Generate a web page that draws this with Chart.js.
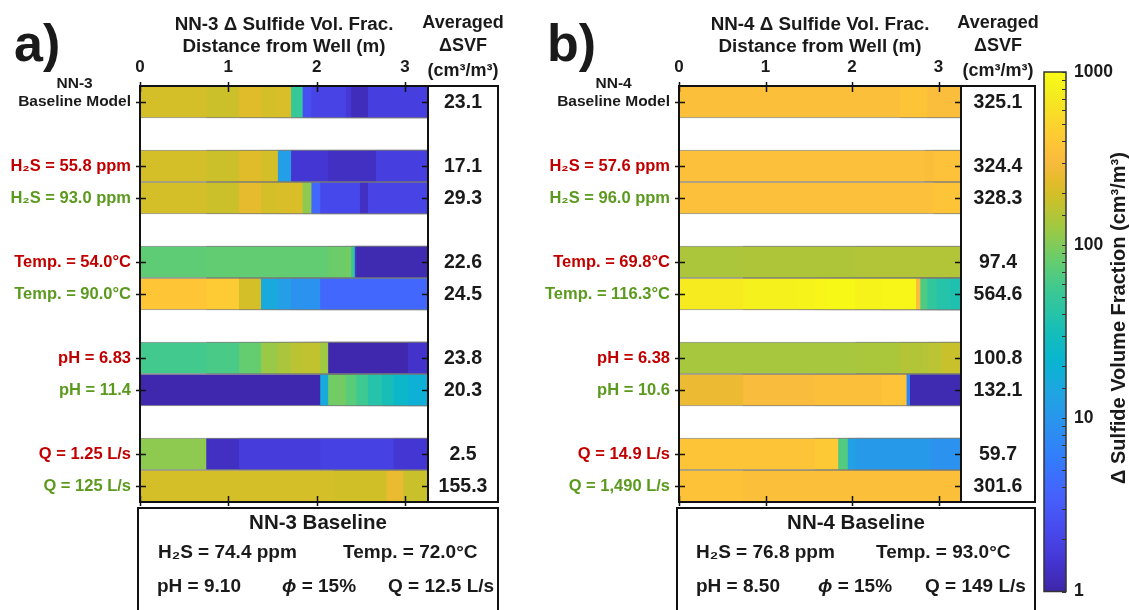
<!DOCTYPE html>
<html><head><meta charset="utf-8">
<script src="https://cdn.jsdelivr.net/npm/chart.js@4.4.1/dist/chart.umd.min.js"></script>
<style>
html,body{margin:0;padding:0;background:#fff;width:1129px;height:610px;overflow:hidden;}
canvas{position:absolute;top:0;}
</style></head><body>
<canvas id="ca" width="560" height="610" style="left:0;width:560px;height:610px"></canvas>
<canvas id="cb" width="495" height="610" style="left:545px;width:495px;height:610px"></canvas>
<canvas id="cc" width="99" height="610" style="left:1030px;width:99px;height:610px"></canvas>
<script>
// ---------------- DATA ----------------
const distanceMax = 3.26;               // m
const distanceTicks = [0, 1, 2, 3];
const colorbarTicks = [1, 10, 100, 1000];

// Row slots (13 per panel; '' = spacer row)
const nn3Labels = ['Baseline Model', '', 'H₂S = 55.8 ppm', 'H₂S = 93.0 ppm', '', 'Temp. = 54.0°C', 'Temp. = 90.0°C', '', 'pH = 6.83', 'pH = 11.4', '', 'Q = 1.25 L/s', 'Q = 125 L/s'];
const nn4Labels = ['Baseline Model', '', 'H₂S = 57.6 ppm', 'H₂S = 96.0 ppm', '', 'Temp. = 69.8°C', 'Temp. = 116.3°C', '', 'pH = 6.38', 'pH = 10.6', '', 'Q = 14.9 L/s', 'Q = 1,490 L/s'];
const labelKinds = ['base', '', 'low', 'high', '', 'low', 'high', '', 'low', 'high', '', 'low', 'high'];
const dataSlots = [0, 2, 3, 5, 6, 8, 9, 11, 12];

// Averaged ΔSVF (cm³/m³) per data row
const nn3Avg = ['23.1', '17.1', '29.3', '22.6', '24.5', '23.8', '20.3', '2.5', '155.3'];
const nn4Avg = ['325.1', '324.4', '328.3', '97.4', '564.6', '100.8', '132.1', '59.7', '301.6'];

// Segment outer edges (m) and Δ sulfide volume fraction (cm³/m³) per data row
const nn3SegEnds = [
  [0.75, 1.12, 1.37, 1.56, 1.71, 1.84, 1.94, 2.33, 2.39, 2.58, 3.26],
  [0.75, 1.12, 1.37, 1.56, 1.71, 2.13, 2.67, 3.26],
  [0.75, 1.12, 1.37, 1.56, 1.84, 1.94, 2.04, 2.49, 2.58, 3.26],
  [0.75, 2.13, 2.33, 2.39, 2.43, 2.45, 3.26],
  [0.75, 1.12, 1.37, 1.56, 1.71, 2.04, 3.26],
  [0.75, 1.12, 1.37, 1.56, 1.71, 1.84, 1.94, 2.04, 2.13, 3.03, 3.26],
  [2.04, 2.13, 2.33, 2.45, 2.58, 2.74, 2.87, 3.03, 3.26],
  [0.75, 1.12, 2.04, 2.87, 3.26],
  [2.18, 2.79, 2.98, 3.26]
];
const nn3SegVals = [
  [200, 185, 225, 200, 210, 51, 2.5, 2.0, 1.6, 1.2, 1.8],
  [200, 185, 225, 200, 12, 1.5, 1.3, 1.8],
  [200, 185, 240, 200, 210, 110, 4, 2.2, 1.3, 2.0],
  [76, 78, 85, 90, 50, 1.5, 1.1],
  [390, 430, 200, 16, 12, 9, 4],
  [57, 62, 80, 120, 140, 160, 165, 170, 125, 1.05, 1.4],
  [1.05, 16, 90, 72, 55, 40, 32, 24, 19],
  [110, 1.3, 1.7, 1.9, 1.5],
  [200, 192, 250, 180]
];
const nn4SegEnds = [
  [2.55, 2.87, 3.26],
  [2.84, 2.94, 3.26],
  [2.94, 3.26],
  [0.74, 2.04, 3.26],
  [0.74, 1.38, 1.57, 1.73, 2.03, 2.34, 2.74, 2.79, 2.87, 2.98, 3.14, 3.26],
  [2.04, 2.55, 2.87, 3.03, 3.26],
  [0.74, 1.57, 2.34, 2.63, 2.67, 3.26],
  [1.57, 1.84, 1.95, 2.04, 2.90, 3.26],
  [0.74, 3.26]
];
const nn4SegVals = [
  [335, 375, 320],
  [345, 330, 360],
  [345, 378],
  [140, 145, 148],
  [740, 820, 850, 900, 950, 850, 900, 320, 65, 48, 40, 36],
  [135, 138, 150, 158, 178],
  [260, 310, 335, 370, 7, 1.1],
  [375, 410, 68, 13, 11, 9],
  [365, 335]
];

// ---------------- STYLE ----------------
const FONT = '"Liberation Sans", Arial, Helvetica, sans-serif';
const fnt = (sz, st) => (st || 'bold') + ' ' + sz + 'px ' + FONT;
const INK = '#1a1a1a';
const RED = '#C00000';
const GREEN = '#5B9A1E';

// parula colormap anchors [index, r, g, b]
const PARULA = [
  [1, 0.2422, 0.1504, 0.6603], [5, 0.2706, 0.2147, 0.8364], [9, 0.2813, 0.3006, 0.9414],
  [13, 0.2699, 0.3892, 0.9906], [17, 0.1963, 0.4847, 0.9892], [21, 0.1687, 0.5703, 0.9359],
  [25, 0.1248, 0.6459, 0.8883], [29, 0.0297, 0.7082, 0.8163], [33, 0.0964, 0.7500, 0.7120],
  [37, 0.2161, 0.7843, 0.5923], [41, 0.3909, 0.8029, 0.4354], [45, 0.6174, 0.7876, 0.2612],
  [49, 0.8203, 0.7498, 0.1535], [51, 0.9035, 0.7330, 0.1774], [53, 0.9728, 0.7298, 0.2394],
  [55, 0.9970, 0.7659, 0.2199], [57, 0.9892, 0.8136, 0.1885], [60, 0.9656, 0.8911, 0.1367],
  [62, 0.9610, 0.9420, 0.1120], [64, 0.9769, 0.9839, 0.0805]
].map(a => [(a[0] - 1) / 63, a[1], a[2], a[3]]);
function parulaT(t) {
  t = Math.max(0, Math.min(1, t));
  for (let i = 1; i < PARULA.length; i++) {
    if (t <= PARULA[i][0]) {
      const a = PARULA[i - 1], b = PARULA[i];
      const u = (t - a[0]) / (b[0] - a[0]);
      const c = [1, 2, 3].map(k => Math.round(255 * (a[k] + u * (b[k] - a[k]))));
      return 'rgb(' + c.join(',') + ')';
    }
  }
  return 'rgb(249,251,21)';
}
const parula = v => parulaT(Math.log10(v) / 3);

function tickColor(kind) { return kind === 'low' ? RED : kind === 'high' ? GREEN : INK; }

function makePanel(canvasId, o) {
  const slots = o.labels.length;
  const maxSeg = Math.max(...o.segEnds.map(a => a.length));
  const datasets = [];
  for (let k = 0; k < maxSeg; k++) {
    const data = new Array(slots).fill(null);
    const colors = new Array(slots).fill('rgba(0,0,0,0)');
    dataSlots.forEach((slot, r) => {
      const ends = o.segEnds[r];
      if (k < ends.length) {
        // each cell is drawn from its inner edge to the row's outer edge;
        // outer cells are painted over it, so no anti-aliasing seams appear
        data[slot] = [k === 0 ? 0 : ends[k - 1], ends[ends.length - 1]];
        colors[slot] = parula(o.segVals[r][k]);
      }
    });
    datasets.push({
      data, backgroundColor: colors, order: -k,
      borderColor: 'rgba(120,120,120,0.75)',
      borderWidth: {top: 1, bottom: 1, left: 0, right: 0},
      borderSkipped: false, barPercentage: 1, categoryPercentage: 1, grouped: false
    });
  }
  const boxW = o.boxW;
  const plugin = {
    id: 'deco' + canvasId,
    afterDraw(chart) {
      const c = chart.ctx, a = chart.chartArea, xs = chart.scales.x, ys = chart.scales.y;
      c.save();
      c.strokeStyle = '#111'; c.lineWidth = 2;
      c.strokeRect(a.left, a.top, a.right - a.left, a.bottom - a.top);
      c.strokeRect(a.right, a.top, boxW, a.bottom - a.top);
      c.lineWidth = 1.5;
      c.beginPath();
      distanceTicks.forEach(v => {
        const px = Math.round(xs.getPixelForValue(v)) + 0.5;
        c.moveTo(px, a.top - 4); c.lineTo(px, a.top + 6);
        c.moveTo(px, a.bottom - 6); c.lineTo(px, a.bottom + 4);
      });
      o.labels.forEach((l, i) => {
        if (!l) return;
        const py = Math.round(ys.getPixelForValue(i)) + 0.5;
        c.moveTo(a.left - 4, py); c.lineTo(a.left + 6, py);
        c.moveTo(a.right - 6, py); c.lineTo(a.right, py);
      });
      c.stroke();
      // averaged values
      const cx = a.right + boxW / 2;
      c.fillStyle = INK; c.textAlign = 'center'; c.textBaseline = 'middle';
      c.font = fnt(19.5);
      dataSlots.forEach((slot, r) => c.fillText(o.avg[r], cx, ys.getPixelForValue(slot) + 1));
      c.font = fnt(18);
      c.fillText('Averaged', cx, 23);
      c.fillText('ΔSVF', cx, 46);
      c.fillText('(cm³/m³)', cx, 71);
      // well name above baseline label
      c.font = fnt(15.5);
      const bw = c.measureText('Baseline Model').width;
      c.fillText(o.well, a.left - 9 - bw / 2, ys.getPixelForValue(0) - 18);
      // panel letter
      c.font = fnt(52); c.textAlign = 'left';
      c.fillText(o.letter, o.letterX, 47);
      // baseline box
      const bx = a.left - 2, by = a.bottom + 6;
      c.lineWidth = 2;
      c.strokeRect(bx, by, a.right + boxW - bx, 620 - by);
      c.textAlign = 'center'; c.font = fnt(20.5);
      c.fillText(o.well + ' Baseline', (bx + a.right + boxW) / 2, by + 15);
      c.textAlign = 'left'; c.font = fnt(19);
      c.fillText(o.b[0], bx + o.bpos[0], by + 45);
      c.fillText(o.b[1], bx + o.bpos[1], by + 45);
      c.fillText(o.b[2], bx + o.bpos[2], by + 79);
      c.font = fnt(19, 'italic bold');
      c.fillText('ϕ', bx + o.bpos[3], by + 79);
      const pw = c.measureText('ϕ').width;
      c.font = fnt(19);
      c.fillText(' = 15%', bx + o.bpos[3] + pw, by + 79);
      c.fillText(o.b[3], bx + o.bpos[4], by + 79);
      c.restore();
    }
  };
  return new Chart(document.getElementById(canvasId), {
    type: 'bar',
    data: {labels: o.labels, datasets},
    options: {
      indexAxis: 'y', responsive: false, animation: false, events: [],
      layout: {padding: {left: 0, top: 0, right: o.width - o.right, bottom: 610 - 502}},
      scales: {
        x: {
          type: 'linear', position: 'top', min: 0, max: distanceMax,
          ticks: {stepSize: 1, includeBounds: false, font: {family: FONT, size: 17, weight: 'bold'}, color: INK, padding: 8},
          grid: {display: false, drawTicks: false}, border: {display: false},
          title: {display: true, text: [o.title, 'Distance from Well (m)'], color: INK,
                  font: {family: FONT, size: 18.8, weight: 'bold', lineHeight: 1.17}, padding: {top: 14, bottom: 0}},
          afterFit: s => { s.height = 86; }
        },
        y: {
          type: 'category',
          ticks: {
            font: ctx => ({family: FONT, size: ctx.index === 0 ? 15.5 : 16.5, weight: 'bold'}),
            color: ctx => tickColor(labelKinds[ctx.index]), padding: 9, autoSkip: false},
          grid: {display: false, drawTicks: false}, border: {display: false},
          afterFit: s => { s.width = o.left; }
        }
      },
      plugins: {legend: {display: false}, tooltip: {enabled: false}}
    },
    plugins: [plugin]
  });
}

makePanel('ca', {
  labels: nn3Labels, segEnds: nn3SegEnds, segVals: nn3SegVals, avg: nn3Avg,
  width: 560, left: 140, right: 428, boxW: 70, well: 'NN-3', letter: 'a)', letterX: 14,
  title: 'NN-3 Δ Sulfide Vol. Frac.',
  b: ['H₂S = 74.4 ppm', 'Temp. = 72.0°C', 'pH = 9.10', 'Q = 12.5 L/s'],
  bpos: [20, 205, 19, 144, 250]
});
makePanel('cb', {
  labels: nn4Labels, segEnds: nn4SegEnds, segVals: nn4SegVals, avg: nn4Avg,
  width: 495, left: 134, right: 416, boxW: 74, well: 'NN-4', letter: 'b)', letterX: 2,
  title: 'NN-4 Δ Sulfide Vol. Frac.',
  b: ['H₂S = 76.8 ppm', 'Temp. = 93.0°C', 'pH = 8.50', 'Q = 149 L/s'],
  bpos: [19, 199, 19, 141, 248]
});

// ---------------- COLORBAR ----------------
const cbPlugin = {
  id: 'cbar',
  beforeDatasetsDraw(chart) {
    const c = chart.ctx, a = chart.chartArea;
    const g = c.createLinearGradient(0, a.bottom, 0, a.top);
    for (let i = 0; i <= 60; i++) g.addColorStop(i / 60, parulaT(i / 60));
    c.save();
    c.fillStyle = g;
    c.fillRect(a.left, a.top, a.right - a.left, a.bottom - a.top);
    c.restore();
  },
  afterDraw(chart) {
    const c = chart.ctx, a = chart.chartArea, ys = chart.scales.y;
    c.save();
    c.strokeStyle = '#333'; c.lineWidth = 1.5;
    c.strokeRect(a.left, a.top, a.right - a.left, a.bottom - a.top);
    c.lineWidth = 1; c.beginPath();
    ys.ticks.forEach(t => {
      const py = Math.round(ys.getPixelForValue(t.value)) + 0.5;
      c.moveTo(a.right - 4, py); c.lineTo(a.right, py);
    });
    c.stroke();
    c.fillStyle = INK; c.font = fnt(20);
    c.translate(89, 318); c.rotate(-Math.PI / 2);
    c.textAlign = 'center'; c.textBaseline = 'middle';
    c.fillText('Δ Sulfide Volume Fraction (cm³/m³)', 0, 0);
    c.restore();
  }
};
new Chart(document.getElementById('cc'), {
  type: 'bar',
  data: {labels: [''], datasets: [{data: [null]}]},
  options: {
    responsive: false, animation: false, events: [],
    layout: {padding: {left: 14, top: 72, bottom: 17, right: 0}},
    scales: {
      x: {display: false},
      y: {
        type: 'logarithmic', position: 'right', min: 1, max: 1000,
        ticks: {autoSkip: false, font: {family: FONT, size: 17.5, weight: 'bold'}, color: INK, padding: 8,
          callback: v => colorbarTicks.some(t => Math.abs(Math.log10(v) - Math.log10(t)) < 1e-6) ? String(v) : ''},
        grid: {display: false, drawTicks: false}, border: {display: false},
        afterFit: s => { s.width = 63; }
      }
    },
    plugins: {legend: {display: false}, tooltip: {enabled: false}}
  },
  plugins: [cbPlugin]
});
</script>
</body></html>
